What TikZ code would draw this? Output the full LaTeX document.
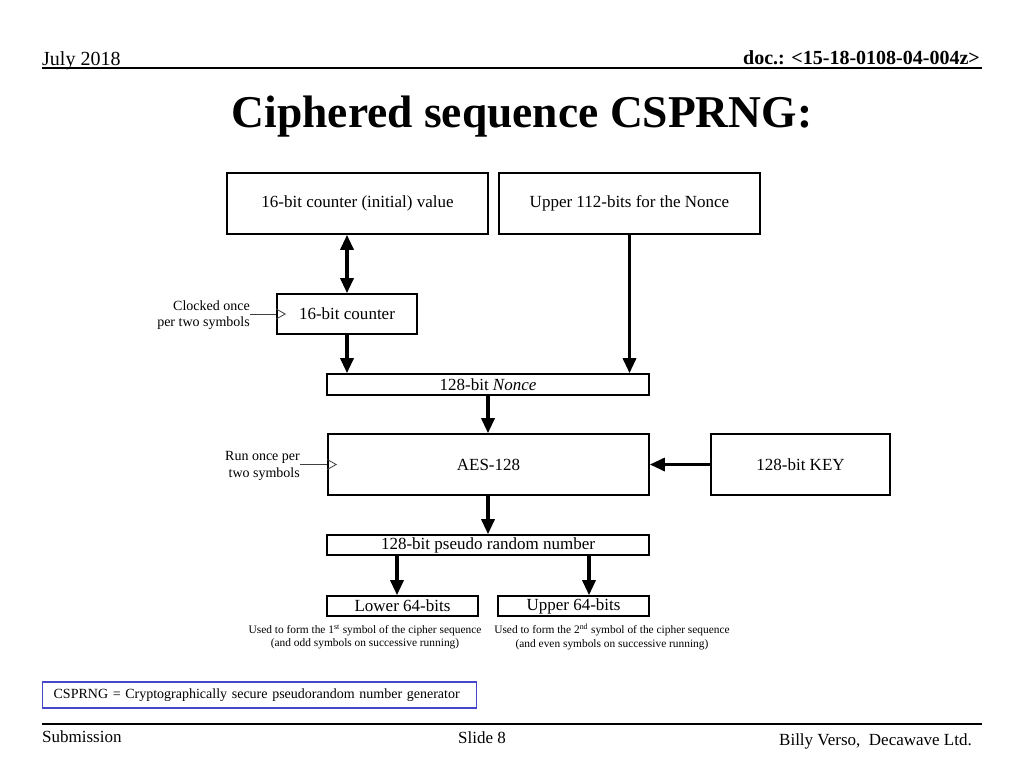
\documentclass[tikz,border=0pt]{standalone}
\usepackage{fontspec}
\setmainfont{Liberation Serif}
\usetikzlibrary{arrows.meta}
\newcommand\fsz[2]{\fontsize{#1}{#2}\selectfont}
\definecolor{legblue}{RGB}{70,70,200}
\tikzset{
  box/.style={draw, line width=1.6pt, inner sep=0pt, font=\fsz{17}{20}},
  arr/.style={line width=3.2pt, -{Triangle[length=15pt,width=13pt]}},
  dblarr/.style={line width=3.2pt, {Triangle[length=15pt,width=13pt]}-{Triangle[length=15pt,width=13pt]}},
  clk/.style={line width=0.8pt, draw=black!75},
  smalllbl/.style={inner sep=0pt, font=\fsz{14}{16.5}, align=right},
  captxt/.style={inner sep=0pt, font=\fsz{11.4}{13.8}, align=center},
  rulestyle/.style={line width=1.6pt}
}
\begin{document}
\begin{tikzpicture}[x=1pt,y=-1pt]
\useasboundingbox (0,0) rectangle (1024,768);
% header
\node[anchor=base west, inner sep=0pt, font=\fsz{20}{24}] (date) at (42,65) {July 2018};
\node[anchor=base east, inner sep=0pt, font=\fsz{20}{24}\bfseries] (doc) at (980,64) {doc.: <15-18-0108-04-004z>};
\draw[rulestyle] (42,68) -- (982,68);
\node[anchor=base, inner sep=0pt, font=\fsz{45.5}{50}\bfseries] (title) at (522,127) {Ciphered sequence CSPRNG:};
% boxes
\node[box, minimum width=261pt, minimum height=61pt] (A) at (357.5,203.5) {16-bit counter (initial) value};
\node[box, minimum width=261pt, minimum height=61pt] (B) at (629.5,203.5) {Upper 112-bits for the Nonce};
\node[box, minimum width=140pt, minimum height=40pt] (cnt) at (347,314) {16-bit counter};
\node[box, minimum width=322pt, minimum height=21pt] (nonce) at (488,384.5) {128-bit \textit{Nonce}};
\node[box, minimum width=321pt, minimum height=61pt] (aes) at (488.5,464.5) {AES-128};
\node[box, minimum width=179pt, minimum height=61pt] (key) at (800.5,464.5) {128-bit KEY};
\node[box, minimum width=322pt, minimum height=20pt] (prn) at (488,545) {128-bit pseudo random number};
\node[box, minimum width=151pt, minimum height=20pt] (low) at (402.5,606) {Lower 64-bits};
\node[box, minimum width=151pt, minimum height=20pt] (up) at (573.5,606) {Upper 64-bits};
% clock labels
\node[smalllbl, anchor=east] (clkA) at (250,315) {Clocked once\\per two symbols};
\node[smalllbl, anchor=east] (clkB) at (300,466) {Run once per\\two symbols};
\draw[clk] (cnt.west -| clkA.east) -- (cnt.west);
\draw[clk] (cnt.west) ++(0pt,5pt) -- ++(9pt,-5pt) -- ++(-9pt,-5pt);
\draw[clk] (aes.west -| clkB.east) -- (aes.west);
\draw[clk] (aes.west) ++(0pt,5pt) -- ++(9pt,-5pt) -- ++(-9pt,-5pt);
% arrows
\draw[dblarr] (cnt.north) -- (cnt.north |- A.south);
\draw[arr] (cnt.south) -- (cnt.south |- nonce.north);
\draw[arr] (B.south) -- (B.south |- nonce.north);
\draw[arr] (nonce.south) -- (nonce.south |- aes.north);
\draw[arr] (key.west) -- (aes.east);
\draw[arr] (aes.south -| prn.north) -- (prn.north);
\coordinate (la) at ([xshift=-5.5pt]low.north);
\coordinate (ua) at ([xshift=15.5pt]up.north);
\draw[arr] (la |- prn.south) -- (la);
\draw[arr] (ua |- prn.south) -- (ua);
% captions
\node[captxt] (capL) at (365,637) {Used to form the 1\textsuperscript{st} symbol of the cipher sequence\\(and odd symbols on successive running)};
\node[captxt] (capU) at (612,637) {Used to form the 2\textsuperscript{nd} symbol of the cipher sequence\\(and even symbols on successive running)};
% legend
\node[draw=legblue, line width=1.3pt, anchor=west, inner xsep=11pt, inner ysep=0pt, text width=412pt, align=left, minimum height=26pt, font=\fsz{14}{17}] (leg) at (42,695) {CSPRNG = Cryptographically secure pseudorandom number generator};
% footer
\draw[rulestyle] (42,724) -- (982,724);
\node[anchor=base west, inner sep=0pt, font=\fsz{17}{20}] (sub) at (42,742) {Submission};
\node[anchor=base, inner sep=0pt, font=\fsz{17}{20}] (slide) at (482,743) {Slide 8};
\node[anchor=base east, inner sep=0pt, font=\fsz{17}{20}] (auth) at (972,745) {Billy Verso,~ Decawave Ltd.};
\end{tikzpicture}
\end{document}
